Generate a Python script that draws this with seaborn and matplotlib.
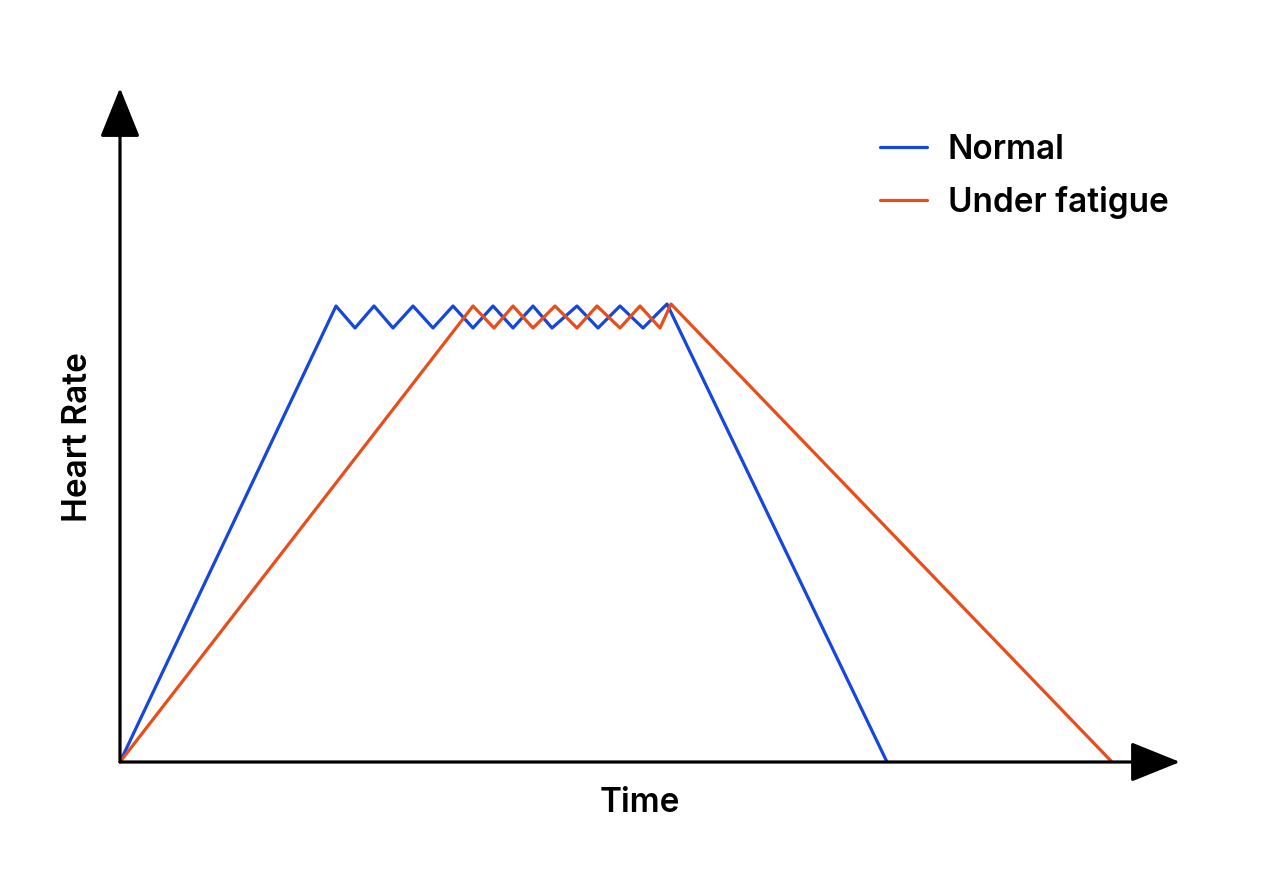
import matplotlib
matplotlib.use("Agg")
import matplotlib.pyplot as plt
import numpy as np
import pandas as pd
import seaborn as sns

# Heart rate curves (arbitrary units)
normal_time = [0, 21.6, 23.5, 25.4, 27.3, 29.3, 31.3, 33.3, 35.3, 37.3, 39.3,
               41.3, 43.2, 45.7, 47.8, 50.0, 52.3, 54.7, 76.7]
normal_hr = [0, 45.6, 43.4, 45.6, 43.4, 45.6, 43.4, 45.6, 43.4, 45.6, 43.4,
             45.6, 43.4, 45.6, 43.4, 45.6, 43.4, 45.8, 0]

fatigue_time = [0, 35.3, 37.4, 39.3, 41.3, 43.5, 45.7, 47.7, 50.0, 52.0, 54.0,
                55.1, 99.2]
fatigue_hr = [0, 45.6, 43.4, 45.6, 43.4, 45.6, 43.4, 45.6, 43.4, 45.6, 43.4,
              45.8, 0]

labels = ["Normal", "Under fatigue"]
colors = {"Normal": "#1646dc", "Under fatigue": "#e84e1c"}

df = pd.concat([
    pd.DataFrame({"Time": normal_time, "Heart Rate": normal_hr, "series": labels[0]}),
    pd.DataFrame({"Time": fatigue_time, "Heart Rate": fatigue_hr, "series": labels[1]}),
], ignore_index=True)

sns.set_style("white")
plt.rcParams["font.family"] = ["Inter", "DejaVu Sans"]
plt.rcParams["text.color"] = "black"

W, H = 1280, 872
fig = plt.figure(figsize=(W / 100, H / 100), dpi=100)
ax = fig.add_axes([120 / W, 110 / H, (1180 - 120) / W, (762 - 88) / H])

sns.lineplot(data=df, x="Time", y="Heart Rate", hue="series", palette=colors,
             sort=False, estimator=None, linewidth=2.3, ax=ax, legend=False)

ax.set_xlim(0, 106)
ax.set_ylim(0, 67.4)
ax.set_xticks([])
ax.set_yticks([])
ax.set_xlabel("")
ax.set_ylabel("")
for s in ax.spines.values():
    s.set_visible(False)

# axis arrows
arrow_kw = dict(arrowstyle="-|>,head_length=31,head_width=12.5", mutation_scale=1,
                lw=2.3, color="black", shrinkA=0, shrinkB=0)
ax.annotate("", xy=(1, 0), xytext=(0, 0), xycoords="axes fraction",
            arrowprops=arrow_kw, annotation_clip=False)
ax.annotate("", xy=(0, 1), xytext=(0, 0), xycoords="axes fraction",
            arrowprops=arrow_kw, annotation_clip=False)

fig.text(640 / W, 1 - 803 / H, "Time", ha="center", va="center",
         fontsize=24, fontweight="semibold", color="black")
fig.text(78 / W, 1 - 437 / H, "Heart Rate", ha="center", va="center",
         rotation=90, fontsize=24, fontweight="semibold", color="black")

handles = [plt.Line2D([], [], color=colors[l], lw=2.3) for l in labels]
fig.legend(handles, labels, loc="upper left", bbox_to_anchor=(880 / W, 1 - 134 / H),
           frameon=False, handlelength=1.42, handletextpad=0.62,
           labelspacing=0.6, borderpad=0, borderaxespad=0,
           prop={"weight": "semibold", "size": 24}, labelcolor="black")

plt.savefig("out.png", dpi=100)
plt.close()
